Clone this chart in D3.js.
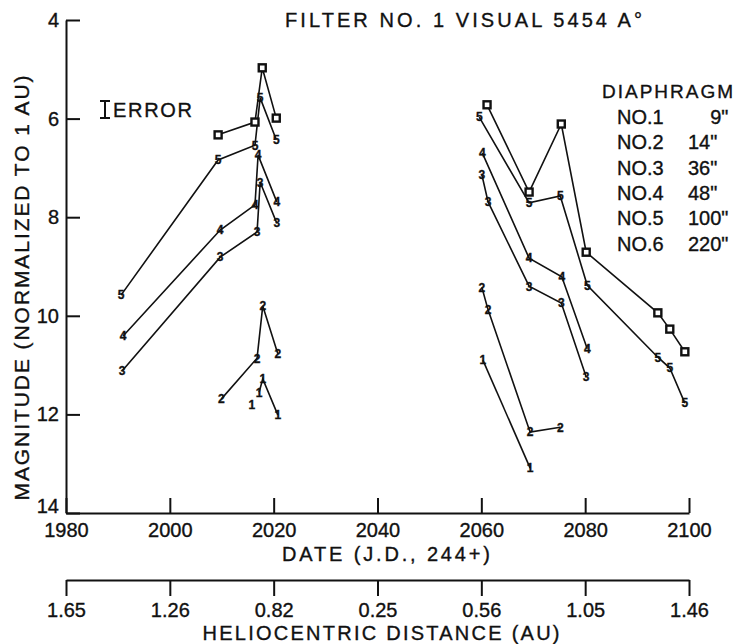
<!DOCTYPE html>
<html><head><meta charset="utf-8">
<script src="https://cdn.jsdelivr.net/npm/d3@7/dist/d3.min.js"></script>
<style>
body{margin:0;background:#fff;}
svg text{font-family:"Liberation Sans",Arial,sans-serif;fill:#111;stroke:#111;stroke-width:0.35px;}
</style></head><body>
<svg id="c" width="745" height="644"></svg>
<script>
// ---- data ----
const yTicks = [4, 6, 8, 10, 12, 14];
const dateTicks = [1980, 2000, 2020, 2040, 2060, 2080, 2100];
const helioLabels = ["1.65", "1.26", "0.82", "0.25", "0.56", "1.05", "1.46"];
const diaphragmNo = ["NO.1", "NO.2", "NO.3", "NO.4", "NO.5", "NO.6"];
const diaphragmSize = ["\u2007\u20079\"", "14\"", "36\"", "48\"", "100\"", "220\""];

// each series: list of connected segments of [date (J.D. 244+), magnitude]
const series1 = [
  [[2015.8, 11.81]],
  [[2017.2, 11.55], [2017.9, 11.28], [2020.8, 12.01]],
  [[2060.3, 10.90], [2069.4, 13.09]]
];
const series2 = [
  [[2009.9, 11.69], [2016.8, 10.86], [2017.9, 9.80], [2020.8, 10.77]],
  [[2060.1, 9.42], [2061.3, 9.88], [2069.4, 12.36], [2075.2, 12.26]]
];
const series3 = [
  [[1990.8, 11.12], [2009.7, 8.81], [2016.8, 8.30], [2017.4, 7.29], [2020.6, 8.12]],
  [[2060.1, 7.14], [2061.3, 7.69], [2069.2, 9.40], [2075.4, 9.74], [2080.2, 11.24]]
];
const series4 = [
  [[1991.0, 10.41], [2009.7, 8.26], [2016.4, 7.75], [2017.0, 6.74], [2020.6, 7.69]],
  [[2060.2, 6.70], [2069.2, 8.83], [2075.5, 9.21], [2080.4, 10.67]]
];
const series5 = [
  [[1990.6, 9.58], [2009.3, 6.84], [2016.4, 6.54], [2017.4, 5.58], [2020.5, 6.43]],
  [[2059.6, 5.97], [2069.2, 7.71], [2075.2, 7.57], [2080.4, 9.38], [2094.0, 10.84], [2096.3, 11.06], [2099.2, 11.77]]
];
const series6 = [
  [[2009.3, 6.33], [2016.4, 6.07], [2017.8, 4.97], [2020.5, 5.99]],
  [[2061.1, 5.72], [2069.2, 7.49], [2075.4, 6.11], [2080.2, 8.71], [2094.0, 9.94], [2096.3, 10.27], [2099.2, 10.73]]
];
const allSeries = [
  {no: "1", data: series1},
  {no: "2", data: series2},
  {no: "3", data: series3},
  {no: "4", data: series4},
  {no: "5", data: series5},
  {no: "6", data: series6}
];

// ---- drawing ----
const svg = d3.select("#c");
const x = d3.scaleLinear().domain([1980, 2100]).range([66, 689]);
const y = d3.scaleLinear().domain([4, 14]).range([20, 513]);

// y axis
const yAxis = svg.append("g").attr("transform", "translate(66,0)")
  .call(d3.axisLeft(y).tickValues(yTicks).tickSize(-14).tickSizeOuter(0).tickPadding(7).tickFormat(d3.format("d")));
// x (date) axis
const xAxis = svg.append("g").attr("transform", "translate(0,513)")
  .call(d3.axisBottom(x).tickValues(dateTicks).tickSize(-15).tickSizeOuter(0).tickPadding(10).tickFormat(d3.format("d")));
// heliocentric axis
const hAxis = svg.append("g").attr("transform", "translate(0,580)")
  .call(d3.axisBottom(x).tickValues(dateTicks).tickSize(16).tickSizeOuter(0).tickPadding(7)
    .tickFormat((d, i) => helioLabels[i]));
[yAxis, xAxis, hAxis].forEach(g => {
  g.selectAll("path,line").attr("stroke", "#111").attr("stroke-width", 2);
  g.selectAll("text").attr("font-size", 20).attr("fill", "#111")
    .style("font-family", "'Liberation Sans',Arial,sans-serif");
});
// bottom "14" label sits just above the date axis line
yAxis.selectAll(".tick text").filter(d => d === 14).attr("dy", "-0.05em");

// lines
const line = d3.line().x(d => x(d[0])).y(d => y(d[1]));
allSeries.forEach(s => {
  const g = svg.append("g").attr("class", "series s" + s.no);
  s.data.forEach(seg => {
    if (seg.length > 1) {
      g.append("path").attr("d", line(seg)).attr("fill", "none")
        .attr("stroke", "#111").attr("stroke-width", 1.6);
    }
    seg.forEach(p => {
      if (s.no === "6") {
        g.append("rect").attr("x", x(p[0]) - 3.5).attr("y", y(p[1]) - 3.5)
          .attr("width", 7).attr("height", 7).attr("fill", "#fff")
          .attr("stroke", "#111").attr("stroke-width", 2.4);
      } else {
        g.append("text").attr("x", x(p[0])).attr("y", y(p[1]))
          .attr("text-anchor", "middle").attr("dy", "0.36em")
          .attr("font-size", 12).attr("font-weight", "bold").text(s.no);
      }
    });
  });
});

// title
svg.append("text").attr("x", 285).attr("y", 27).attr("font-size", 20)
  .attr("textLength", 357).attr("lengthAdjust", "spacing")
  .text("FILTER NO. 1  VISUAL 5454 A\u00B0");

// axis titles
svg.append("text").attr("x", 386).attr("y", 561).attr("font-size", 20)
  .attr("text-anchor", "middle").attr("textLength", 208).attr("lengthAdjust", "spacing")
  .text("DATE (J.D., 244+)");
svg.append("text").attr("x", 381).attr("y", 640).attr("font-size", 20)
  .attr("text-anchor", "middle").attr("textLength", 357).attr("lengthAdjust", "spacing")
  .text("HELIOCENTRIC DISTANCE (AU)");
svg.append("text").attr("transform", "translate(29,288) rotate(-90)").attr("font-size", 21)
  .attr("text-anchor", "middle").attr("textLength", 425).attr("lengthAdjust", "spacing")
  .text("MAGNITUDE (NORMALIZED TO 1 AU)");

// error bar indicator
const eb = svg.append("g").attr("stroke", "#111").attr("stroke-width", 2);
eb.append("line").attr("x1", 105).attr("x2", 105).attr("y1", 101).attr("y2", 118);
eb.append("line").attr("x1", 100).attr("x2", 110).attr("y1", 101).attr("y2", 101);
eb.append("line").attr("x1", 100).attr("x2", 110).attr("y1", 118).attr("y2", 118);
svg.append("text").attr("x", 113).attr("y", 117).attr("font-size", 20)
  .attr("textLength", 79).attr("lengthAdjust", "spacing").text("ERROR");

// legend
svg.append("text").attr("x", 602).attr("y", 98).attr("font-size", 19)
  .attr("textLength", 131).attr("lengthAdjust", "spacing").text("DIAPHRAGM");
diaphragmNo.forEach((n, i) => {
  const yy = 124 + i * 25.3;
  svg.append("text").attr("x", 617).attr("y", yy).attr("font-size", 20).text(n);
  svg.append("text").attr("x", 688).attr("y", yy).attr("font-size", 20).text(diaphragmSize[i]);
});
</script></body></html>
